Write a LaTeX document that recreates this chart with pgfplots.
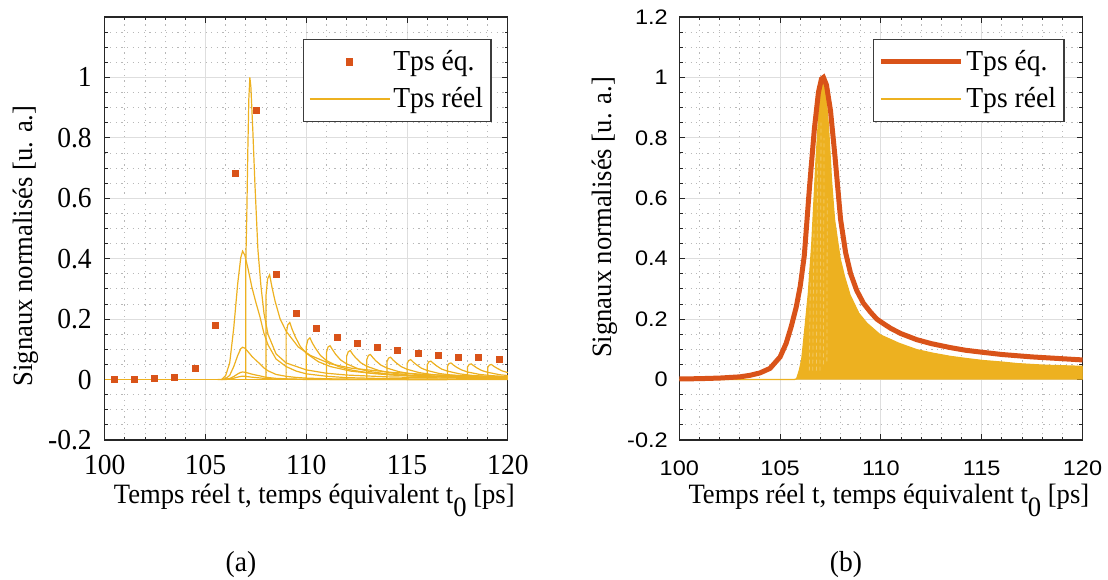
\documentclass[border=0pt]{standalone}
\usepackage{fontspec}
\setmainfont[FakeStretch=0.95]{Liberation Serif}
\newfontfamily\tickfont[FakeStretch=1.12]{Liberation Sans}
\usepackage{pgfplots}
\pgfplotsset{compat=1.18}
\definecolor{cOr}{HTML}{D95319}
\definecolor{cYe}{HTML}{EDB120}
\definecolor{gridmaj}{HTML}{DEDEDE}
\definecolor{gridmin}{HTML}{B8B8B8}
\definecolor{axc}{HTML}{262626}

\pgfplotsset{
  base/.style={
    scale only axis, width=201.6pt, height=211.5pt,
    xmin=100, xmax=120, ymin=-0.2, ymax=1.2,
    xtick={100,105,110,115,120},
    minor xtick={101,102,103,104,106,107,108,109,111,112,113,114,116,117,118,119},
    minor ytick={-0.15,-0.1,-0.05,0.05,0.1,0.15,0.25,0.3,0.35,0.45,0.5,0.55,0.65,0.7,0.75,0.85,0.9,0.95,1.05,1.1,1.15},
    grid=both,
    major grid style={gridmaj, line width=0.5pt},
    minor grid style={gridmin, line width=0.45pt, dash pattern=on 0.6pt off 2.2pt},
    axis line style={axc, line width=0.55pt},
    tick style={axc, line width=0.5pt},
    tick align=inside,
    major tick length=2.8pt, minor tick length=1.6pt,
    xticklabels={100,105,110,115,120},
    xticklabel style={anchor=base, inner sep=0pt, yshift=-17pt},
    label style={font=\fontsize{14}{16}\selectfont},
    xlabel={Temps réel t, temps équivalent t\raisebox{-6.5pt}{0} [ps]},
    ylabel={Signaux normalisés [u. a.]},
    xlabel style={at={(axis description cs:0.5198,-0.1495)}, anchor=base, inner sep=0pt},
    legend cell align=left,
    legend style={at={(1,1)}, anchor=north east, draw=axc!90, line width=0.6pt,
      font=\fontsize{14.5}{16}\selectfont, inner xsep=2.5pt, inner ysep=2pt,
      nodes={inner xsep=1.5pt, inner ysep=3.4pt}, row sep=0pt},
    legend image code/.code={\draw[mark repeat=2,mark phase=2,#1] plot coordinates {(0pt,0pt)(20pt,0pt)(40pt,0pt)};},
  }
}

\begin{document}
\begin{tikzpicture}
\useasboundingbox (0,0) rectangle (554pt,289.5pt);

% ---------------- (a) ----------------
\begin{axis}[base, at={(52.35pt,69.5pt)}, anchor=south west,
  ytick={-0.2,0,0.2,0.4,0.6,0.8,1},
  yticklabels={-0.2,0,0.2,0.4,0.6,0.8,1},
  ticklabel style={font=\fontsize{14.5}{16}\selectfont},
  yticklabel style={anchor=east, inner sep=0pt, xshift=-6.3pt},
  ylabel style={at={(axis description cs:-0.1951,0.4586)}, anchor=center},
  legend style={xshift=-8.2pt, yshift=-11pt},
]
\addlegendimage{only marks, mark=square*, mark size=1.5pt, cOr}
\addlegendentry{Tps éq.}
\addlegendimage{cYe, line width=0.9pt}
\addlegendentry{Tps réel}

% baseline
\addplot[cYe, line width=0.7pt, forget plot] coordinates {(100,0)(120,0)};
% bumps before the pulse
\addplot[cYe, line width=0.6pt, forget plot] coordinates {
(105.8,0)(106.0,0.0003)(106.2,0.0014)(106.4,0.0044)(106.6,0.0083)(106.75,0.0105)(106.84,0.011)(106.95,0.0107)(107.1,0.0096)(107.3,0.0079)(107.5,0.0066)(107.7,0.0054)(107.9,0.004)(108.1,0.003)(108.5,0.0018)(109.0,0.0011)(109.5,0.0007)(110.0,0.0005)(111.0,0.0003)(112.0,0.0002)(114.0,0.0001)(117.0,0)};
\addplot[cYe, line width=0.6pt, forget plot] coordinates {
(105.6,0)(105.9,0.0008)(106.2,0.0033)(106.4,0.010)(106.6,0.0188)(106.75,0.0238)(106.84,0.025)(106.95,0.0243)(107.1,0.0218)(107.3,0.018)(107.5,0.015)(107.7,0.0123)(107.9,0.009)(108.1,0.0068)(108.5,0.004)(109.0,0.0025)(109.5,0.0016)(110.0,0.0011)(111.0,0.0006)(112.0,0.0004)(114.0,0.0002)(117.0,0.0001)};
\addplot[cYe, line width=0.6pt, forget plot] coordinates {
(105.8,0)(106.0,0.0032)(106.2,0.0139)(106.4,0.0428)(106.6,0.080)(106.75,0.102)(106.84,0.107)(106.95,0.104)(107.1,0.093)(107.3,0.077)(107.5,0.064)(107.7,0.052)(107.9,0.0385)(108.1,0.029)(108.5,0.017)(109.0,0.0107)(109.5,0.007)(110.0,0.0048)(111.0,0.0027)(112.0,0.0016)(114.0,0.0007)(117.0,0.0003)(120.0,0.0002)};
\addplot[cYe, line width=0.6pt, forget plot] coordinates {
(105.8,0)(106.0,0.013)(106.2,0.055)(106.4,0.170)(106.6,0.319)(106.75,0.404)(106.84,0.425)(106.95,0.412)(107.1,0.370)(107.3,0.306)(107.5,0.255)(107.7,0.208)(107.9,0.153)(108.1,0.115)(108.5,0.068)(109.0,0.043)(109.5,0.028)(110.0,0.019)(111.0,0.011)(112.0,0.0064)(114.0,0.003)(117.0,0.0013)(120.0,0.0009)};
% main peak
\addplot[cYe, line width=0.6pt, forget plot] coordinates {
(107,0)(107,0.39)(107.05,0.55)(107.1,0.76)(107.15,0.93)(107.2,1.0)(107.25,0.97)(107.35,0.82)(107.45,0.65)(107.6,0.43)(107.75,0.31)(107.9,0.22)(108.1,0.15)(108.5,0.085)(109,0.055)(110,0.032)(111,0.021)(112,0.015)(114,0.009)(117,0.005)(120,0.003)};
% later periods
\addplot[cYe, line width=0.6pt, forget plot] coordinates {
(108,0)(108,0.278)(108.08,0.333)(108.18,0.347)(108.3,0.305)(108.45,0.260)(108.7,0.201)(109,0.160)(109.6,0.108)(110.2,0.080)(111.2,0.052)(112.2,0.038)(114.2,0.024)(116.2,0.016)(120.2,0.009)};
\addplot[cYe, line width=0.6pt, forget plot] coordinates {
(109,0)(109,0.151)(109.08,0.181)(109.18,0.189)(109.3,0.166)(109.45,0.142)(109.7,0.110)(110,0.087)(110.6,0.059)(111.2,0.043)(112.2,0.028)(113.2,0.021)(115.2,0.013)(117.2,0.0085)(121.2,0.0047)};
\addplot[cYe, line width=0.6pt, forget plot] coordinates {
(110,0)(110,0.110)(110.08,0.132)(110.18,0.138)(110.3,0.121)(110.45,0.104)(110.7,0.080)(111,0.063)(111.6,0.043)(112.2,0.032)(113.2,0.021)(114.2,0.015)(116.2,0.0097)(118.2,0.0062)(122.2,0.0035)};
\addplot[cYe, line width=0.6pt, forget plot] coordinates {
(111,0)(111,0.090)(111.08,0.108)(111.18,0.112)(111.3,0.099)(111.45,0.084)(111.7,0.065)(112,0.052)(112.6,0.035)(113.2,0.026)(114.2,0.017)(115.2,0.012)(117.2,0.0078)(119.2,0.005)(123.2,0.0028)};
\addplot[cYe, line width=0.6pt, forget plot] coordinates {
(112,0)(112,0.077)(112.08,0.092)(112.18,0.096)(112.3,0.084)(112.45,0.072)(112.7,0.056)(113,0.044)(113.6,0.030)(114.2,0.022)(115.2,0.014)(116.2,0.011)(118.2,0.0067)(120.2,0.0043)};
\addplot[cYe, line width=0.6pt, forget plot] coordinates {
(113,0)(113,0.066)(113.08,0.080)(113.18,0.083)(113.3,0.073)(113.45,0.062)(113.7,0.048)(114,0.038)(114.6,0.026)(115.2,0.019)(116.2,0.012)(117.2,0.0091)(119.2,0.0058)(121.2,0.0037)};
\addplot[cYe, line width=0.6pt, forget plot] coordinates {
(114,0)(114,0.059)(114.08,0.071)(114.18,0.074)(114.3,0.065)(114.45,0.056)(114.7,0.043)(115,0.034)(115.6,0.023)(116.2,0.017)(117.2,0.011)(118.2,0.0081)(120.2,0.0052)};
\addplot[cYe, line width=0.6pt, forget plot] coordinates {
(115,0)(115,0.053)(115.08,0.063)(115.18,0.066)(115.3,0.058)(115.45,0.050)(115.7,0.038)(116,0.030)(116.6,0.020)(117.2,0.015)(118.2,0.0099)(119.2,0.0073)(121.2,0.0046)};
\addplot[cYe, line width=0.6pt, forget plot] coordinates {
(116,0)(116,0.049)(116.08,0.059)(116.18,0.061)(116.3,0.054)(116.45,0.046)(116.7,0.035)(117,0.028)(117.6,0.019)(118.2,0.014)(119.2,0.0092)(120.2,0.0067)};
\addplot[cYe, line width=0.6pt, forget plot] coordinates {
(117,0)(117,0.044)(117.08,0.053)(117.18,0.055)(117.3,0.048)(117.45,0.041)(117.7,0.032)(118,0.025)(118.6,0.017)(119.2,0.013)(120.2,0.0083)};
\addplot[cYe, line width=0.6pt, forget plot] coordinates {
(118,0)(118,0.042)(118.08,0.050)(118.18,0.052)(118.3,0.046)(118.45,0.039)(118.7,0.030)(119,0.024)(119.6,0.016)(120.2,0.012)};
\addplot[cYe, line width=0.6pt, forget plot] coordinates {
(119,0)(119,0.040)(119.08,0.048)(119.18,0.050)(119.3,0.044)(119.45,0.038)(119.7,0.029)(120,0.023)(120.6,0.016)};

% equivalent-time samples
\addplot[only marks, mark=square*, mark size=1.5pt, cOr, forget plot] coordinates {
(100.46,0.000)(101.47,0.001)(102.47,0.003)(103.48,0.008)(104.48,0.037)(105.49,0.178)(106.49,0.683)(107.50,0.890)(108.50,0.347)(109.51,0.218)(110.51,0.168)(111.52,0.140)(112.52,0.121)(113.53,0.106)(114.53,0.096)(115.54,0.088)(116.54,0.080)(117.55,0.075)(118.55,0.072)(119.56,0.067)};
\end{axis}

% ---------------- (b) ----------------
\begin{axis}[base, at={(339.65pt,69.5pt)}, anchor=south west,
  ytick={-0.2,0,0.2,0.4,0.6,0.8,1,1.2},
  yticklabels={-0.2,0,0.2,0.4,0.6,0.8,1,1.2},
  ticklabel style={font=\tickfont\fontsize{10.5}{12}\selectfont},
  yticklabel style={anchor=east, inner sep=0pt, xshift=-5.6pt},
  xticklabel style={yshift=-0.8pt},
  ylabel style={at={(axis description cs:-0.1844,0.526)}, anchor=center},
  legend style={xshift=-9pt, yshift=-11pt},
]
\addlegendimage{cOr, line width=2.5pt}
\addlegendentry{Tps éq.}
\addlegendimage{cYe, line width=0.8pt}
\addlegendentry{Tps réel}

% dense real-time curves (envelope fill)
\addplot[fill=cYe, draw=cYe, line width=0.6pt, forget plot] coordinates {
(100,0)(105.7,0)(105.82,0.003)(105.95,0.03)(106.07,0.066)(106.2,0.15)(106.4,0.286)(106.57,0.45)(106.78,0.727)(106.98,0.947)(107.13,0.99)(107.25,0.96)(107.4,0.84)(107.55,0.66)(107.7,0.53)(107.98,0.40)(108.2,0.34)(108.47,0.28)(108.9,0.22)(109.3,0.187)(109.97,0.148)(110.9,0.12)(111.78,0.099)(112.6,0.087)(113.43,0.077)(114.2,0.07)(115.08,0.063)(116,0.058)(116.74,0.053)(118,0.048)(119.88,0.044)(120,0.044)(120,0)};
% lighter streaks inside the dense bundle
\addplot[cYe!70!white, line width=0.4pt, dash pattern=on 2pt off 1.5pt, forget plot] coordinates {(106.45,0.03)(106.5,0.33)};
\addplot[cYe!70!white, line width=0.4pt, dash pattern=on 2pt off 1.5pt, forget plot] coordinates {(106.62,0.03)(106.68,0.52)};
\addplot[cYe!70!white, line width=0.4pt, dash pattern=on 2pt off 1.5pt, forget plot] coordinates {(106.8,0.03)(106.86,0.72)};
\addplot[cYe!70!white, line width=0.4pt, dash pattern=on 2pt off 1.5pt, forget plot] coordinates {(106.98,0.03)(107.03,0.85)};
\addplot[cYe!70!white, line width=0.4pt, dash pattern=on 2pt off 1.5pt, forget plot] coordinates {(107.15,0.05)(107.18,0.8)};
\addplot[cYe!70!white, line width=0.4pt, dash pattern=on 2pt off 1.5pt, forget plot] coordinates {(107.32,0.06)(107.34,0.6)};

% equivalent-time signal
\addplot[cOr, line width=2.5pt, forget plot] coordinates {
(100,0.002)(101,0.003)(102,0.005)(103,0.009)(103.5,0.014)(104,0.022)(104.5,0.037)(105,0.075)(105.3,0.12)(105.55,0.175)(105.8,0.24)(106.0,0.31)(106.2,0.41)(106.45,0.63)(106.7,0.83)(106.9,0.95)(107.05,0.995)(107.15,1.0)(107.3,0.975)(107.5,0.89)(107.72,0.74)(108.0,0.53)(108.25,0.42)(108.5,0.35)(108.8,0.295)(109.13,0.253)(109.5,0.222)(109.8,0.2)(110.13,0.185)(110.5,0.169)(111,0.152)(111.78,0.132)(112.5,0.119)(113.43,0.106)(114.2,0.097)(115.08,0.09)(116,0.083)(116.74,0.079)(117.5,0.075)(118.5,0.071)(119.5,0.067)(120,0.065)};
\end{axis}

\node[font=\fontsize{14.5}{16}\selectfont, inner sep=0pt] at (120.5pt,7pt) {(a)};
\node[font=\fontsize{14.5}{16}\selectfont, inner sep=0pt] at (423pt,7pt) {(b)};
\end{tikzpicture}
\end{document}
